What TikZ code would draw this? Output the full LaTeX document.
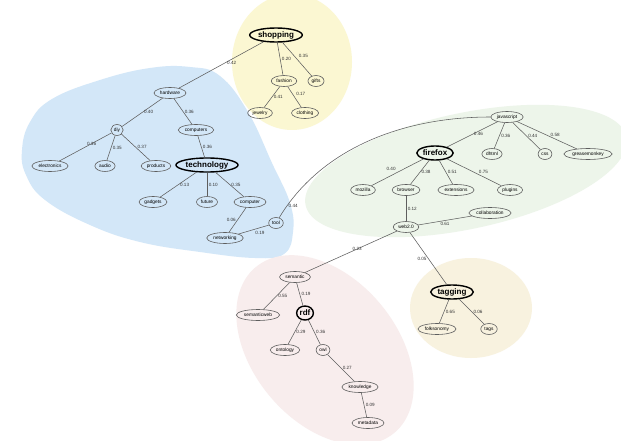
\documentclass[tikz,border=0pt]{standalone}
\usepackage{fontspec}
\setmainfont{Liberation Sans}
\usetikzlibrary{shapes.geometric}
\definecolor{cblue}{HTML}{D3E7F8}
\definecolor{cyellow}{HTML}{FBF7D2}
\definecolor{cgreen}{HTML}{EDF5EA}
\definecolor{cpink}{HTML}{F8EDED}
\definecolor{corange}{HTML}{F8F2DF}
\definecolor{cedge}{HTML}{5E5E5E}
\begin{document}
\begin{tikzpicture}[x=1pt,y=-1pt,
  tag/.style={ellipse, draw=cedge, line width=0.6pt, inner sep=1.3pt, minimum height=11pt,
    font=\fontsize{4.8}{5.5}\selectfont},
  hub/.style={ellipse, draw=black, line width=1.4pt, inner sep=0.6pt, minimum height=14pt,
    font=\bfseries\fontsize{8}{9}\selectfont},
  link/.style={draw=cedge, line width=0.55pt},
  lbl/.style={font=\fontsize{4.6}{5}\selectfont, inner sep=1.5pt, text=black!80}]
\useasboundingbox (0,0) rectangle (621,441);
\fill[white] (0,0) rectangle (621,441);
% clusters
\fill[cblue] plot[smooth cycle, tension=0.7] coordinates {(22,150) (30,122) (52,99) (100,80) (150,68) (190,67) (220,76) (248,112) (272,163) (290,203) (293,232) (284,254) (255,258) (200,252) (140,242) (90,225) (45,200) (26,175)};
\fill[cyellow] (292,62) ellipse [x radius=60pt, y radius=68pt];
\fill[cgreen] (466,171) ellipse [x radius=164pt, y radius=58pt, rotate=12];
\fill[cpink] (325,350) ellipse [x radius=108pt, y radius=72pt, rotate=-50];
\fill[corange] (471,308) ellipse [x radius=61pt, y radius=50pt];
% shopping
\node[hub] (shopping) at (276,35) {shopping};
\node[tag] (fashion) at (284,81) {fashion};
\node[tag] (gifts) at (316,81) {gifts};
\node[tag] (jewelry) at (260,113) {jewelry};
\node[tag] (clothing) at (305,113) {clothing};
% technology
\node[tag] (hardware) at (170,93) {hardware};
\node[tag] (diy) at (117,130) {diy};
\node[tag] (computers) at (196,130) {computers};
\node[tag] (electronics) at (50,166) {electronics};
\node[tag] (audio) at (105,166) {audio};
\node[tag] (products) at (156,166) {products};
\node[hub] (technology) at (207,165) {technology};
\node[tag] (gadgets) at (153,202) {gadgets};
\node[tag] (future) at (207,202) {future};
\node[tag] (computer) at (250,202) {computer};
\node[tag] (networking) at (225,238) {networking};
\node[tag] (tool) at (276,223) {tool};
% firefox
\node[tag] (javascript) at (507,117) {javascript};
\node[hub] (firefox) at (435,153) {firefox};
\node[tag] (dhtml) at (492,154) {dhtml};
\node[tag] (css) at (545,154) {css};
\node[tag] (greasemonkey) at (588,154) {greasemonkey};
\node[tag] (mozilla) at (363,190) {mozilla};
\node[tag] (browser) at (406,190) {browser};
\node[tag] (extensions) at (456,190) {extensions};
\node[tag] (plugins) at (510,190) {plugins};
\node[tag] (web) at (406,227) {web2.0};
\node[tag] (collaboration) at (490,213) {collaboration};
% rdf
\node[tag] (semantic) at (295,277) {semantic};
\node[tag] (semanticweb) at (258,315) {semanticweb};
\node[hub] (rdf) at (305,313) {rdf};
\node[tag] (ontology) at (285,350) {ontology};
\node[tag] (owl) at (323,350) {owl};
\node[tag] (knowledge) at (360,387) {knowledge};
\node[tag] (metadata) at (368,423) {metadata};
% tagging
\node[hub] (tagging) at (452,292) {tagging};
\node[tag] (folksonomy) at (437,329) {folksonomy};
\node[tag] (tags) at (489,329) {tags};
% edges
\path[link] (hardware) -- node[lbl, pos=0.55, anchor=west] {0.42} (shopping);
\path[link] (shopping) -- node[lbl, anchor=west] {0.20} (fashion);
\path[link] (shopping) -- node[lbl, anchor=south west] {0.35} (gifts);
\path[link] (fashion) -- node[lbl, anchor=west] {0.41} (jewelry);
\path[link] (fashion) -- node[lbl, anchor=south west] {0.17} (clothing);
\path[link] (hardware) -- node[lbl, anchor=west] {0.40} (diy);
\path[link] (hardware) -- node[lbl, anchor=west] {0.36} (computers);
\path[link] (diy) -- node[lbl, anchor=south west] {0.36} (electronics);
\path[link] (diy) -- node[lbl, anchor=west] {0.35} (audio);
\path[link] (diy) -- node[lbl, anchor=west] {0.37} (products);
\path[link] (computers) -- node[lbl, anchor=west] {0.36} (technology);
\path[link] (technology) -- node[lbl, anchor=west] {0.13} (gadgets);
\path[link] (technology) -- node[lbl, anchor=west] {0.10} (future);
\path[link] (technology) -- node[lbl, anchor=west] {0.35} (computer);
\path[link] (computer) -- node[lbl, anchor=east] {0.06} (networking);
\path[link] (networking) -- node[lbl, anchor=north west] {0.19} (tool);
\path[link] (tool) .. controls (320,150) and (400,117) .. node[lbl, pos=0.06, anchor=west] {0.44} (javascript);
\path[link] (javascript) -- node[lbl, anchor=west] {0.46} (firefox);
\path[link] (javascript) -- node[lbl, anchor=west] {0.36} (dhtml);
\path[link] (javascript) -- node[lbl, anchor=west] {0.44} (css);
\path[link] (javascript) -- node[lbl, anchor=west, xshift=2pt] {0.58} (greasemonkey);
\path[link] (firefox) -- node[lbl, anchor=south east] {0.40} (mozilla);
\path[link] (firefox) -- node[lbl, anchor=west] {0.38} (browser);
\path[link] (firefox) -- node[lbl, anchor=west] {0.51} (extensions);
\path[link] (firefox) -- node[lbl, anchor=west, xshift=3pt] {0.75} (plugins);
\path[link] (browser) -- node[lbl, anchor=west] {0.12} (web);
\path[link] (web) -- node[lbl, anchor=north] {0.61} (collaboration);
\path[link] (web) -- node[lbl, anchor=south west] {0.23} (semantic);
\path[link] (web) -- node[lbl, anchor=east] {0.05} (tagging);
\path[link] (semantic) -- node[lbl, anchor=west] {0.55} (semanticweb);
\path[link] (semantic) -- node[lbl, anchor=west] {0.19} (rdf);
\path[link] (rdf) -- node[lbl, anchor=west] {0.29} (ontology);
\path[link] (rdf) -- node[lbl, anchor=west] {0.36} (owl);
\path[link] (owl) -- node[lbl, anchor=west] {0.27} (knowledge);
\path[link] (knowledge) -- node[lbl, anchor=west] {0.09} (metadata);
\path[link] (tagging) -- node[lbl, anchor=west] {0.65} (folksonomy);
\path[link] (tagging) -- node[lbl, anchor=west] {0.06} (tags);
\end{tikzpicture}
\end{document}
